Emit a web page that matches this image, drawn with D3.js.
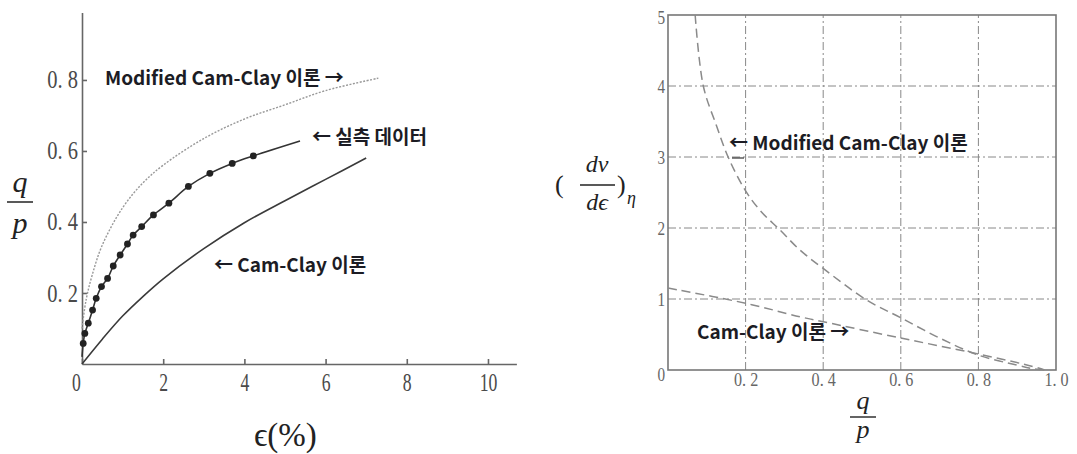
<!DOCTYPE html>
<html>
<head>
<meta charset="utf-8">
<script src="https://cdn.jsdelivr.net/npm/d3@7"></script>
<style>
  html, body { margin: 0; padding: 0; background: #fff; }
  svg { display: block; }
</style>
</head>
<body>
<svg id="chart" width="1077" height="454"></svg>
<script>
// ---- Left panel: stress ratio q/p against axial strain (%) ----
const strainTicks = [0, 2, 4, 6, 8, 10];
const ratioTicks = [0.2, 0.4, 0.6, 0.8];

// Modified Cam-Clay prediction
const strainMod = [0, 0.1, 0.25, 0.5, 1, 1.5, 2, 3, 4, 5, 6, 7.3];
const ratioMod  = [0.1, 0.18, 0.25, 0.335, 0.44, 0.51, 0.56, 0.635, 0.69, 0.73, 0.77, 0.805];

// Measured points
const strainMeas = [0.03, 0.07, 0.155, 0.26, 0.35, 0.48, 0.63, 0.77, 0.94, 1.12, 1.26, 1.47, 1.76, 2.14, 2.62, 3.15, 3.70, 4.22];
const ratioMeas  = [0.058, 0.086, 0.115, 0.152, 0.185, 0.218, 0.241, 0.276, 0.307, 0.338, 0.363, 0.387, 0.42, 0.453, 0.5, 0.537, 0.565, 0.586];
// Smooth line drawn through the measured points
const strainFit = [0, ...strainMeas, 5.37];
const ratioFit  = [0.02, ...ratioMeas, 0.628];

// Cam-Clay prediction
const strainCC = [0, 0.5, 1, 1.5, 2, 3, 4, 5, 6, 7];
const ratioCC  = [0, 0.07, 0.135, 0.19, 0.24, 0.325, 0.398, 0.46, 0.52, 0.58];

// ---- Right panel: dilatancy (dv/dε)η against q/p ----
const etaTicks = [0.2, 0.4, 0.6, 0.8, 1.0];
const dilTicks = [0, 1, 2, 3, 4, 5];

const etaMod = [0.07, 0.091, 0.125, 0.155, 0.198, 0.237, 0.289, 0.34, 0.40, 0.512, 0.602, 0.70, 0.80, 0.899, 0.94, 0.98];
const dilMod = [5.0, 4.0, 3.44, 3.0, 2.54, 2.25, 1.97, 1.69, 1.43, 0.986, 0.73, 0.45, 0.21, 0.07, 0.02, 0];

const etaCC = [0, 0.2, 0.34, 0.4, 0.6, 0.8, 0.94, 0.97];
const dilCC = [1.155, 0.94, 0.75, 0.68, 0.45, 0.225, 0.05, 0];

const svg = d3.select("#chart");
const zip = (xs, ys) => xs.map((x, i) => [x, ys[i]]);
const labelFont = "'Noto Sans CJK KR', 'Noto Sans', sans-serif";
const serif = "'Liberation Serif', 'DejaVu Serif', serif";

// squeeze tick numerals horizontally (condensed typewriter look)
function condense(sel, sx) {
  sel.each(function () {
    const t = d3.select(this);
    const x = +t.attr("x") || 0, y = +t.attr("y") || 0;
    t.attr("x", 0).attr("y", 0)
     .attr("transform", `translate(${x},${y}) scale(${sx},1)`);
  });
}
const fmtRatio = d => d === 0 ? "0" : d3.format(".1f")(d).replace(".", ".\u00a0");

// ================= Left panel =================
const xL = d3.scaleLinear().domain([0, 10.7]).range([82, 516.4]);
const yL = d3.scaleLinear().domain([0, 0.99]).range([364, 12.5]);

const gL = svg.append("g");

const axX = gL.append("g").attr("transform", `translate(0,${yL(0)})`)
  .call(d3.axisBottom(xL).tickValues(strainTicks).tickSizeInner(-5).tickSizeOuter(0).tickPadding(9)
    .tickFormat(d3.format("d")));
axX.selectAll("text").attr("font-family", serif).attr("font-size", 26).attr("fill", "#4a4a4a");
axX.selectAll("line, path").attr("stroke", "#666").attr("stroke-width", 1.6);
condense(axX.selectAll("text"), 0.68);
axX.selectAll(".tick").filter(d => d === 0).select("text").attr("transform", function () {
  return d3.select(this).attr("transform").replace(/translate\(([^,]+),/, (m, a) => `translate(${+a - 6},`);
});

const axY = gL.append("g").attr("transform", `translate(${xL(0)},0)`)
  .call(d3.axisLeft(yL).tickValues(ratioTicks).tickSizeInner(-5).tickSizeOuter(0).tickPadding(4)
    .tickFormat(fmtRatio));
axY.selectAll("text").attr("font-family", serif).attr("font-size", 25).attr("fill", "#4a4a4a");
axY.selectAll("line, path").attr("stroke", "#666").attr("stroke-width", 1.6);
condense(axY.selectAll("text"), 0.82);

const lineL = d3.line().x(d => xL(d[0])).y(d => yL(d[1])).curve(d3.curveCatmullRom.alpha(0.5));

gL.append("path").datum(zip(strainMod, ratioMod)).attr("d", lineL)
  .attr("fill", "none").attr("stroke", "#999").attr("stroke-width", 1.4).attr("stroke-dasharray", "2,1.5");
gL.append("path").datum(zip(strainFit, ratioFit)).attr("d", lineL)
  .attr("fill", "none").attr("stroke", "#333").attr("stroke-width", 1.6);
gL.append("path").datum(zip(strainCC, ratioCC)).attr("d", lineL)
  .attr("fill", "none").attr("stroke", "#3a3a3a").attr("stroke-width", 1.6);
gL.selectAll("circle.meas").data(zip(strainMeas, ratioMeas)).join("circle")
  .attr("class", "meas").attr("cx", d => xL(d[0])).attr("cy", d => yL(d[1])).attr("r", 3.4)
  .attr("fill", "#222");

const boldLabel = (x, y, s) => svg.append("text").attr("x", x).attr("y", y)
  .attr("font-family", labelFont).attr("font-weight", 700).attr("font-size", 19)
  .attr("fill", "#1c1c24").text(s);

boldLabel(105, 85, "Modified Cam-Clay 이론 →");
boldLabel(312, 144, "← 실측 데이터");
boldLabel(214, 272, "← Cam-Clay 이론");

// axis titles of the left panel
const italic = (x, y, s, size, anchor = "middle") => svg.append("text").attr("x", x).attr("y", y)
  .attr("font-family", serif).attr("font-style", "italic").attr("font-size", size)
  .attr("text-anchor", anchor).attr("fill", "#222").text(s);
italic(20, 192, "q", 30);
svg.append("line").attr("x1", 7).attr("x2", 33).attr("y1", 202).attr("y2", 202).attr("stroke", "#222").attr("stroke-width", 1.5);
italic(20, 233, "p", 30);
svg.append("text").attr("x", 254).attr("y", 446).attr("font-family", serif).attr("font-size", 33)
  .attr("fill", "#222").text("ϵ(%)");

// ================= Right panel =================
const xR = d3.scaleLinear().domain([0, 1]).range([668, 1056]);
const yR = d3.scaleLinear().domain([0, 5]).range([370, 15]);
const gR = svg.append("g");

gR.append("g").selectAll("line").data(etaTicks.filter(d => d < 1)).join("line")
  .attr("x1", d => xR(d)).attr("x2", d => xR(d)).attr("y1", yR(0)).attr("y2", yR(5))
  .attr("stroke", "#888").attr("stroke-width", 1).attr("stroke-dasharray", "8,3,2,3");
gR.append("g").selectAll("line").data(dilTicks.filter(d => d > 0 && d < 5)).join("line")
  .attr("x1", xR(0)).attr("x2", xR(1)).attr("y1", d => yR(d)).attr("y2", d => yR(d))
  .attr("stroke", "#888").attr("stroke-width", 1).attr("stroke-dasharray", "8,3,2,3");

gR.append("rect").attr("x", xR(0)).attr("y", yR(5)).attr("width", xR(1) - xR(0)).attr("height", yR(0) - yR(5))
  .attr("fill", "none").attr("stroke", "#777").attr("stroke-width", 1.6);

const axXR = gR.append("g").attr("transform", `translate(0,${yR(0)})`)
  .call(d3.axisBottom(xR).tickValues(etaTicks).tickSize(0).tickPadding(2).tickFormat(fmtRatio));
axXR.select("path").remove();
axXR.selectAll("text").attr("font-family", serif).attr("font-size", 19).attr("fill", "#666");
condense(axXR.selectAll("text"), 0.85);

const axYR = gR.append("g").attr("transform", `translate(${xR(0)},0)`)
  .call(d3.axisLeft(yR).tickValues(dilTicks).tickSize(0).tickPadding(3).tickFormat(d3.format("d")));
axYR.select("path").remove();
axYR.selectAll("text").attr("font-family", serif).attr("font-size", 19).attr("fill", "#666");
condense(axYR.selectAll("text"), 0.8);
axYR.selectAll(".tick").filter(d => d === 0).attr("transform", `translate(0,${yR(0) + 5})`);
axYR.selectAll(".tick").filter(d => d === 5).attr("transform", `translate(0,${yR(5) + 3})`);

const lineR = d3.line().x(d => xR(d[0])).y(d => yR(d[1])).curve(d3.curveCatmullRom.alpha(0.5));
gR.append("path").datum(zip(etaMod, dilMod)).attr("d", lineR)
  .attr("fill", "none").attr("stroke", "#8a8a8a").attr("stroke-width", 1.5).attr("stroke-dasharray", "9,5");
gR.append("path").datum(zip(etaCC, dilCC)).attr("d", lineR)
  .attr("fill", "none").attr("stroke", "#8a8a8a").attr("stroke-width", 1.5).attr("stroke-dasharray", "9,5");

boldLabel(729, 150, "← Modified Cam-Clay 이론");
svg.append("line").attr("x1", 732).attr("x2", 744).attr("y1", 158).attr("y2", 158).attr("stroke", "#333").attr("stroke-width", 1.2);
boldLabel(697, 339, "Cam-Clay 이론 →");

// axis titles of the right panel
svg.append("text").attr("x", 555).attr("y", 193).attr("font-family", serif).attr("font-size", 26).attr("fill", "#222").text("(");
italic(597, 172, "dv", 24);
svg.append("line").attr("x1", 580).attr("x2", 615).attr("y1", 185).attr("y2", 185).attr("stroke", "#222").attr("stroke-width", 1.3);
italic(597, 210, "dϵ", 24);
svg.append("text").attr("x", 617).attr("y", 193).attr("font-family", serif).attr("font-size", 26).attr("fill", "#222").text(")");
italic(627, 204, "η", 18, "start");

italic(863, 409, "q", 26);
svg.append("line").attr("x1", 850).attr("x2", 876).attr("y1", 417).attr("y2", 417).attr("stroke", "#222").attr("stroke-width", 1.4);
italic(863, 438, "p", 26);
</script>
</body>
</html>
